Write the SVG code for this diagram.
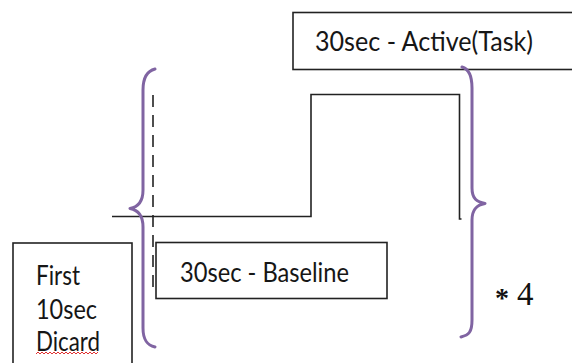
<svg xmlns="http://www.w3.org/2000/svg" width="572" height="363" viewBox="0 0 572 363">
<style>
.box{fill:#fff;stroke:#222;stroke-width:1.6}
.lbl{font-family:Lato,"Liberation Sans",sans-serif;font-size:27px;fill:#161616}
.line{fill:none;stroke:#222;stroke-width:1.6}
.brace{fill:none;stroke:#8064a2;stroke-width:3;stroke-linecap:round;stroke-linejoin:round}
</style>
<rect width="572" height="363" fill="#fff"/>
<g id="connectors">
<path class="line" d="M112,216.5 H311 V94.5 H459.5 V219 h2"/>
<path class="line" d="M153,95 V292" stroke-dasharray="12 8"/>
</g>
<g id="active">
<rect class="box" x="293" y="12.5" width="290" height="57"/>
<text class="lbl" x="315" y="51" textLength="218" lengthAdjust="spacingAndGlyphs">30sec - Active(Task)</text>
</g>
<g id="baseline">
<rect class="box" x="156" y="242.5" width="231" height="56"/>
<text class="lbl" x="180" y="282" textLength="169" lengthAdjust="spacingAndGlyphs">30sec - Baseline</text>
</g>
<g id="first">
<rect class="box" x="13" y="243" width="119" height="140"/>
<text class="lbl"><tspan x="36" y="285" textLength="44" lengthAdjust="spacingAndGlyphs">First</tspan><tspan x="36" y="319" textLength="61" lengthAdjust="spacingAndGlyphs">10sec</tspan><tspan x="36" y="351" textLength="64" lengthAdjust="spacingAndGlyphs">Dicard</tspan></text>
<path d="M36,354 l2,-2 l2,2 l2,-2 l2,2 l2,-2 l2,2 l2,-2 l2,2 l2,-2 l2,2 l2,-2 l2,2 l2,-2 l2,2 l2,-2 l2,2 l2,-2 l2,2 l2,-2 l2,2 l2,-2 l2,2 l2,-2 l2,2 l2,-2 l2,2 l2,-2 l2,2 l2,-2 l2,2 l2,-2" fill="none" stroke="#e03030" stroke-width="1"/>
</g>
<g id="brace-left">
<path class="brace" d="M155,69 C147,71 143,78 143,90 L143,190 C143,202 138,207 130,208.5 C138,210 143,215 143,227 L143,328 C143,340 147,345 155,347"/>
</g>
<g id="brace-right">
<path class="brace" d="M462,67 C469,69 472,76 472,88 L472,188 C472,199 477,202 485,203.5 C477,205 472,209 472,220 L472,320 C472,332 469,335 461,337"/>
<text font-family="'Liberation Serif',serif" fill="#111"><tspan x="495" y="307" font-size="28" font-weight="bold">*</tspan><tspan x="517" y="305" font-size="33">4</tspan></text>
</g>
</svg>
